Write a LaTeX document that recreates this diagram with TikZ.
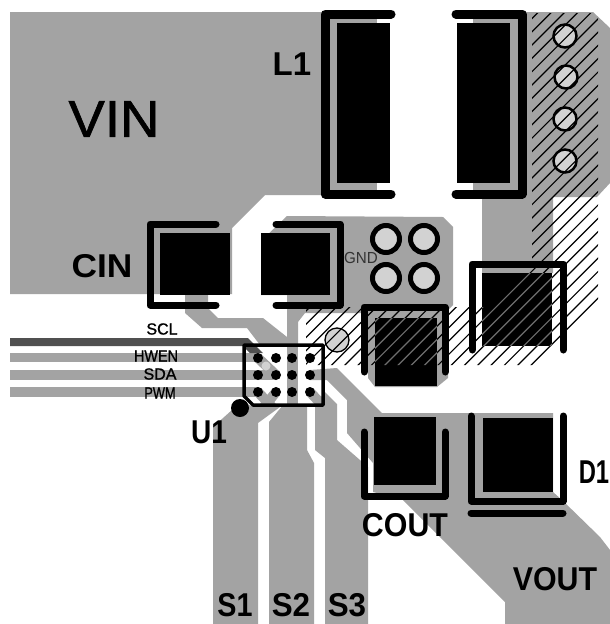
\documentclass[tikz,border=0pt]{standalone}
\usepackage{fontspec}
\setmainfont{Liberation Sans}
\newfontfamily\silkfont[FakeBold=1.2]{Liberation Sans}
\definecolor{copper}{HTML}{A3A3A3}
\definecolor{drill}{HTML}{D2D2D2}
\definecolor{sclcopper}{HTML}{505050}
\definecolor{hatchpad}{HTML}{6E6E6E}
\tikzset{
  trace/.style={fill=copper,draw=none},
  fanout/.style={copper,line width=10pt},
  pad/.style={fill=black,draw=none},
  silk/.style={black,line width=7pt,line cap=round,line join=round},
  via/.style={circle,draw=black,line width=5pt,fill=drill,inner sep=0pt,minimum size=27pt},
  thinvia/.style={circle,draw=black,line width=2.5pt,fill=drill,inner sep=0pt,minimum size=23pt},
  lbl/.style={inner sep=0pt,anchor=center},
  big/.style={lbl,font=\silkfont\fontsize{52}{52}\selectfont},
  mid/.style={lbl,font=\bfseries\fontsize{33}{33}\selectfont},
  tiny/.style={lbl,font=\silkfont\fontsize{16}{16}\selectfont},
}
\def\hatchzone{(532,13) -- (598,13) -- (598,303) -- (538,365) -- (306,365) -- (306,307) -- (490,307) -- (532,263) -- cycle}
\def\hatchlines#1{\foreach \k in {-30,...,45} {\draw[#1,line width=1.2pt] ({843+13.3*\k},0) -- (0,{843+13.3*\k});}}
\begin{document}
\begin{tikzpicture}[x=1pt,y=-1pt]
\useasboundingbox (0,0) rectangle (610,624);
\fill[white] (0,0) rectangle (610,624);
% copper
\fill[trace] (10,12) -- (325,12) -- (325,195) -- (265,195) -- (232,228) -- (232,294) -- (10,294) -- cycle;
\fill[trace] (325,14) rectangle (377,194);
\fill[trace] (473,12) -- (593,12) -- (610,28) -- (610,183) -- (597,197) -- (553,197) -- (553,273) -- (482,273) -- (482,194) -- (473,194) -- cycle;
\fill[trace] (287,216) -- (443,217) -- (453,227) -- (453,305) -- (448,310) -- (448,378) -- (437,387) -- (375,387) -- (368,378) -- (368,313) -- (305,313) -- (298,322) -- (298,345) -- (287,345) -- (287,295) -- (261,295) -- (261,241) -- cycle;
\fill[trace] (185,295) -- (208,295) -- (208,308) -- (218,318) -- (263,318) -- (287,337) -- (287,345) -- (260,345) -- (247,328) -- (202,328) -- (185,313) -- cycle;
\fill[trace] (10,353) rectangle (258,362);
\fill[trace] (10,370) rectangle (276,380);
\fill[trace] (10,387) rectangle (258,397);
\fill[sclcopper] (10,338) -- (248,338) -- (263,353) -- (250,353) -- (243,346) -- (10,346) -- cycle;
% chip fan-out
\draw[fanout] (258,358) -- (276,375);
\draw[fanout] (258,392) -- (272,407);
\draw[fanout] (276,392) -- (264,407);
\draw[fanout] (310,392) -- (324,407);
\fill[trace] (287,345) rectangle (298,407);
\fill[trace] (310,370) -- (337,368) -- (382,413) -- (553,413) -- (553,492) -- (562,500) -- (600,537) -- (610,550) -- (610,624) -- (505,624) -- (505,602) -- (403,500) -- (373,492) -- (373,463) -- (347,433) -- (347,400) -- (327,380) -- (310,380) -- cycle;
\fill[trace] (213,624) -- (213,427) -- (232,410) -- (245,405) -- (280,407) -- (258,423) -- (258,624) -- cycle;
\fill[trace] (269,624) -- (269,422) -- (283,405) -- (307,405) -- (307,450) -- (314,463) -- (314,624) -- cycle;
\fill[trace] (325,624) -- (325,458) -- (315,450) -- (315,405) -- (325,392) -- (337,404) -- (337,440) -- (368,467) -- (368,624) -- cycle;
% pads
\fill[pad] (337,23) rectangle (390,183);
\fill[pad] (457,23) rectangle (510,183);
\fill[pad] (160,233) rectangle (230,295);
\fill[pad] (261,233) rectangle (330,295);
\fill[pad] (375,318) rectangle (437,386);
\fill[pad] (482,273) rectangle (552,346);
\fill[pad] (374,417) rectangle (436,485);
\fill[pad] (483,418) rectangle (553,492);
% silk brackets
\draw[silk,line width=9pt] (391,14) -- (325,14) -- (325,194) -- (391,194);
\draw[silk,line width=9pt] (456,14) -- (522,14) -- (522,194) -- (456,194);
\draw[silk] (216,224) -- (150,224) -- (150,305) -- (216,305);
\draw[silk] (276,224) -- (340,224) -- (340,305) -- (276,305);
\draw[silk] (364,372) -- (364,307) -- (445,307) -- (445,372);
\draw[silk] (472,350) -- (472,264) -- (563,264) -- (563,350);
\draw[silk] (364,432) -- (364,496) -- (445,496) -- (445,432);
\draw[silk] (471,416) -- (471,501) -- (563,501) -- (563,416);
\draw[silk] (471,513) -- (563,513);
% chip outline
\draw[black,line width=3.5pt,line join=round] (244,345) -- (323,345) -- (323,405) -- (253,405) -- (244,396) -- cycle;
\foreach \y in {358,375,392} {\foreach \x in {258,276,292,310} {\fill[black] (\x,\y) circle (5);}}
\fill[drill] (266,366) circle (4.5);
\fill[black] (240,408) circle (9);
% vias
\node[via] (via1) at (386,239) {};
\node[via] (via2) at (424,239) {};
\node[via] (via3) at (386,278) {};
\node[via] (via4) at (424,278) {};
\node[thinvia] (via5) at (565,36) {};
\node[thinvia] (via6) at (566,77) {};
\node[thinvia] (via7) at (565,119) {};
\node[thinvia] (via8) at (565,161) {};
\node[circle,draw=black,line width=1.3pt,fill=drill,inner sep=0pt,minimum size=24pt] (via9) at (337,340) {};
% hatching
\begin{scope}
\clip \hatchzone;
\hatchlines{black}
\end{scope}
\begin{scope}
\clip \hatchzone;
\clip (375,318) rectangle (437,386) (482,273) rectangle (552,346);
\hatchlines{hatchpad}
\end{scope}
% labels
\node[big,xscale=1.05] (vin) at (114,119) {VIN};
\node[mid] (l1) at (292,64) {L1};
\node[mid,xscale=1.07] (cin) at (102,266) {CIN};
\node[tiny] (scl) at (162,329) {SCL};
\node[tiny,xscale=.9] (hwen) at (156,356) {HWEN};
\node[tiny] (sda) at (160,374) {SDA};
\node[tiny,xscale=.8] (pwm) at (160,393) {PWM};
\node[lbl,text=black!80,font=\fontsize{16}{16}\selectfont,xscale=.95] (gnd) at (361,258) {GND};
\node[mid,xscale=.85] (u1) at (209,432) {U1};
\node[mid,xscale=.92] (cout) at (405,525) {COUT};
\node[mid,xscale=.72] (d1) at (594,472) {D1};
\node[mid,xscale=.92] (vout) at (555,579) {VOUT};
\node[mid,xscale=.87] (s1) at (235,605) {S1};
\node[mid,xscale=.95] (s2) at (291,605) {S2};
\node[mid,xscale=.95] (s3) at (347,605) {S3};
\end{tikzpicture}
\end{document}
